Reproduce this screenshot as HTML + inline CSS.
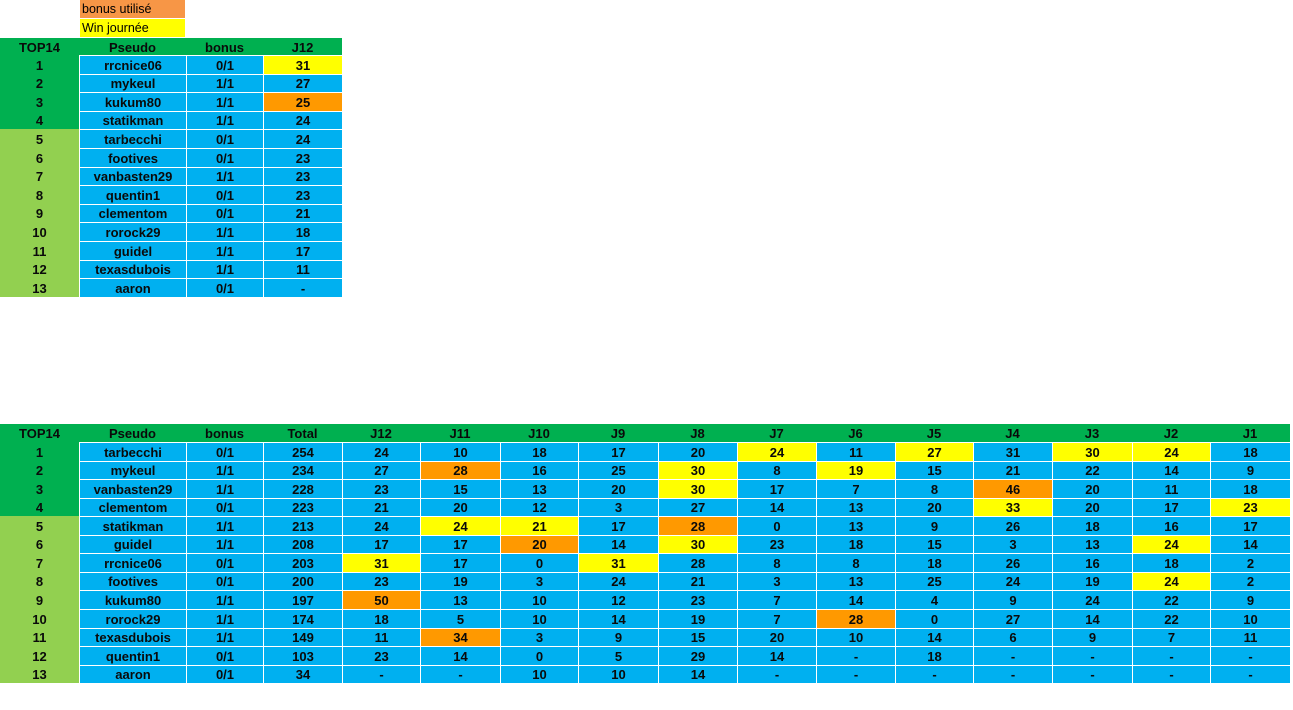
<!DOCTYPE html>
<html><head><meta charset="utf-8">
<style>
body{margin:0;width:1293px;height:710px;background:#fff;position:relative;overflow:hidden;font-family:"Liberation Sans",Arial,sans-serif;}
.c{position:absolute;box-sizing:border-box;display:flex;align-items:center;justify-content:center;font-weight:bold;font-size:13px;color:#0a0a0a;}
.b{border-left:1px solid #fff;border-top:1px solid #fff;}
.leg{position:absolute;font-size:12.5px;padding-left:2px;box-sizing:border-box;display:flex;align-items:center;}
</style></head><body>
<div class="leg" style="left:80px;top:0;width:105px;height:18px;background:#F79646;">bonus utilisé</div>
<div class="leg" style="left:80px;top:19px;width:105px;height:18px;background:#FFFF00;">Win journée</div>
<div id="root"></div>
<script>
const topNames=["rrcnice06","mykeul","kukum80","statikman","tarbecchi","footives","vanbasten29","quentin1","clementom","rorock29","guidel","texasdubois","aaron"];
const topBonus=["0/1","1/1","1/1","1/1","0/1","0/1","1/1","0/1","0/1","1/1","1/1","1/1","0/1"];
const topJ12=["31Y","27","25O","24","24","23","23","23","21","18","17","11","-"];
const headers=["TOP14","Pseudo","bonus","Total","J12","J11","J10","J9","J8","J7","J6","J5","J4","J3","J2","J1"];
const names=["tarbecchi","mykeul","vanbasten29","clementom","statikman","guidel","rrcnice06","footives","kukum80","rorock29","texasdubois","quentin1","aaron"];
const bonus=["0/1","1/1","1/1","0/1","1/1","1/1","0/1","0/1","1/1","1/1","1/1","0/1","0/1"];
const totals=["254","234","228","223","213","208","203","200","197","174","149","103","34"];
const scores=[
["24","10","18","17","20","24Y","11","27Y","31","30Y","24Y","18"],
["27","28O","16","25","30Y","8","19Y","15","21","22","14","9"],
["23","15","13","20","30Y","17","7","8","46O","20","11","18"],
["21","20","12","3","27","14","13","20","33Y","20","17","23Y"],
["24","24Y","21Y","17","28O","0","13","9","26","18","16","17"],
["17","17","20O","14","30Y","23","18","15","3","13","24Y","14"],
["31Y","17","0","31Y","28","8","8","18","26","16","18","2"],
["23","19","3","24","21","3","13","25","24","19","24Y","2"],
["50O","13","10","12","23","7","14","4","9","24","22","9"],
["18","5","10","14","19","7","28O","0","27","14","22","10"],
["11","34O","3","9","15","20","10","14","6","9","7","11"],
["23","14","0","5","29","14","-","18","-","-","-","-"],
["-","-","10","10","14","-","-","-","-","-","-","-"]];
const xs=[0,79,186,263,342,420,500,578,658,737,816,895,973,1052,1132,1210,1290];
const root=document.getElementById('root');
function cell(x,y,w,h,txt,bg,bord,name){
 const d=document.createElement('div');
 d.className='c'+(bord?' b':'');
 d.style.left=x+'px';d.style.top=y+'px';d.style.width=w+'px';d.style.height=h+'px';d.style.background=bg;
 if(!bord)d.style.borderTop='1px solid '+bg;
 d.textContent=txt;
 
 
 root.appendChild(d);
}
function val(s){let bg='#00B0F0';if(s.endsWith('Y')){bg='#FFFF00';s=s.slice(0,-1);}else if(s.endsWith('O')){bg='#FF9900';s=s.slice(0,-1);}return [s,bg];}
const tx=[0,79,186,263,342];
const th=["TOP14","Pseudo","bonus","J12"];
for(let c=0;c<4;c++)cell(tx[c],38,tx[c+1]-tx[c],17,th[c],'#00B050',false,'top-header-'+th[c].toLowerCase());
for(let i=0;i<13;i++){
 const y=Math.round(55+i*18.6),h=Math.round(55+(i+1)*18.6)-y;
 const g=i<4?'#00B050':'#92D050';
 cell(0,y,79,h,String(i+1),g,false,'top-rank-'+(i+1));
 cell(79,y,107,h,topNames[i],'#00B0F0',true,'top-pseudo-'+(i+1));
 cell(186,y,77,h,topBonus[i],'#00B0F0',true,'top-bonus-'+(i+1));
 const [t,bg]=val(topJ12[i]);
 cell(263,y,79,h,t,bg,true,'top-j12-'+(i+1));
}
for(let c=0;c<16;c++)cell(xs[c],424,xs[c+1]-xs[c],18,headers[c],'#00B050',false,'bottom-header-'+headers[c].toLowerCase());
for(let i=0;i<13;i++){
 const y=Math.round(442+i*18.55),h=Math.round(442+(i+1)*18.55)-y;
 const g=i<4?'#00B050':'#92D050';
 cell(0,y,79,h,String(i+1),g,false,'rank-'+(i+1));
 cell(79,y,107,h,names[i],'#00B0F0',true,'pseudo-'+(i+1));
 cell(186,y,77,h,bonus[i],'#00B0F0',true,'bonus-'+(i+1));
 cell(263,y,79,h,totals[i],'#00B0F0',true,'total-'+(i+1));
 for(let j=0;j<12;j++){
  const [t,bg]=val(scores[i][j]);
  cell(xs[j+4],y,xs[j+5]-xs[j+4],h,t,bg,true,'score-'+(i+1)+'-'+headers[j+4].toLowerCase());
 }
}
</script>
</body></html>
